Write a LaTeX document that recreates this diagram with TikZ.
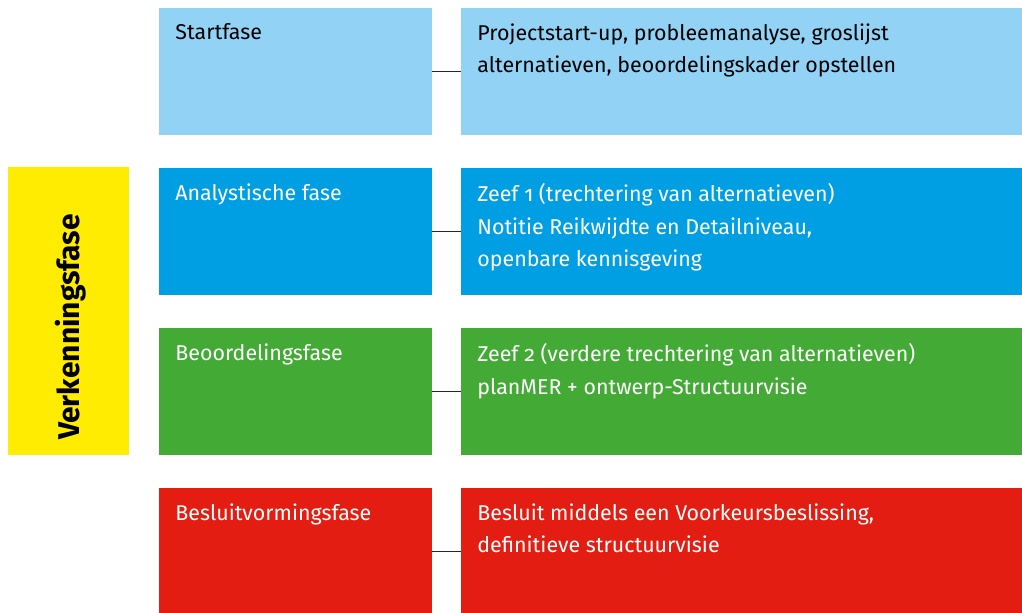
\documentclass[tikz,border=0pt]{standalone}
\usepackage{fontspec}
\setmainfont{Fira Sans}[Numbers=OldStyle]
\usepackage{xcolor}
\usetikzlibrary{positioning}

\definecolor{startblauw}{HTML}{92D2F4}
\definecolor{analyseblauw}{HTML}{009FE3}
\definecolor{beoordeelgroen}{HTML}{43AA35}
\definecolor{besluitrood}{HTML}{E31D12}
\definecolor{verkengeel}{HTML}{FFEC00}

\begin{document}
\begin{tikzpicture}[x=0.5pt, y=-0.5pt, node distance=16.5pt]
    % Styles
    \tikzstyle{fase} = [rectangle, minimum height=63.5pt, minimum width=136.5pt, inner sep=0pt, outer sep=0pt]
    \tikzstyle{inhoud} = [rectangle, minimum height=63.5pt, minimum width=280.5pt, inner sep=0pt, outer sep=0pt]
    \tikzstyle{tekst} = [anchor=north west, align=left, inner sep=0pt, font=\fontsize{10.7}{16.2}\selectfont]
    \tikzstyle{lijn} = [draw=black!85, line width=0.9pt]

    \useasboundingbox (0,0) rectangle (1022,612);

    % Left column
    \node [fase, fill=startblauw, anchor=north west] (Start) at (159,8) {};
    \node [fase, fill=analyseblauw, below=of Start] (Analyse) {};
    \node [fase, fill=beoordeelgroen, below=of Analyse] (Beoordeel) {};
    \node [fase, fill=besluitrood, below=of Beoordeel] (Besluit) {};

    % Right column
    \node [inhoud, fill=startblauw, right=14.5pt of Start] (StartInh) {};
    \node [inhoud, fill=analyseblauw, right=14.5pt of Analyse] (AnalyseInh) {};
    \node [inhoud, fill=beoordeelgroen, right=14.5pt of Beoordeel] (BeoordeelInh) {};
    \node [inhoud, fill=besluitrood, right=14.5pt of Besluit] (BesluitInh) {};

    % Verkenningsfase
    \node [rectangle, fill=verkengeel, minimum width=60.5pt, minimum height=144pt, outer sep=0pt, anchor=north west] (Verk) at (8,167) {};
    \node [rotate=90, font=\fontsize{15}{18}\selectfont\bfseries] (VerkT) at (71,327) {Verkenningsfase};

    % Texts
    \node [tekst, below right=7.7pt and 8pt of Start.north west] (StartT) {Startfase};
    \node [tekst, below right=7.7pt and 8pt of StartInh.north west] (StartInhT) {Projectstart-up, probleemanalyse, groslijst\\alternatieven, beoordelingskader opstellen};
    \node [tekst, text=white, below right=7.7pt and 8pt of Analyse.north west] (AnalyseT) {Analystische fase};
    \node [tekst, text=white, below right=7.7pt and 8pt of AnalyseInh.north west] (AnalyseInhT) {Zeef 1 (trechtering van alternatieven)\\Notitie Reikwijdte en Detailniveau,\\openbare kennisgeving};
    \node [tekst, text=white, below right=7.7pt and 8pt of Beoordeel.north west] (BeoordeelT) {Beoordelingsfase};
    \node [tekst, text=white, below right=7.7pt and 8pt of BeoordeelInh.north west] (BeoordeelInhT) {Zeef 2 (verdere trechtering van alternatieven)\\planMER + ontwerp-Structuurvisie};
    \node [tekst, text=white, below right=7.7pt and 8pt of Besluit.north west] (BesluitT) {Besluitvormingsfase};
    \node [tekst, text=white, below right=7.7pt and 8pt of BesluitInh.north west] (BesluitInhT) {Besluit middels een Voorkeursbeslissing,\\definitieve structuurvisie};

    % Connections
    \draw [lijn] (Start) -- (StartInh);
    \draw [lijn] (Analyse) -- (AnalyseInh);
    \draw [lijn] (Beoordeel) -- (BeoordeelInh);
    \draw [lijn] (Besluit) -- (BesluitInh);
\end{tikzpicture}
\end{document}
